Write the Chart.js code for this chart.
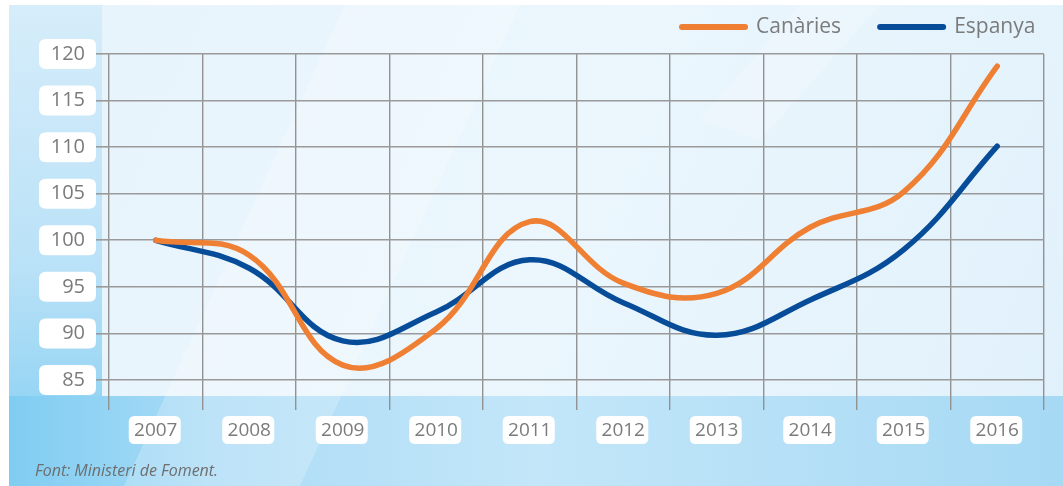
<!DOCTYPE html>
<html>
<head>
<meta charset="utf-8">
<script src="https://cdn.jsdelivr.net/npm/chart.js@4.4.1/dist/chart.umd.min.js"></script>
<style>
  html, body { margin: 0; padding: 0; background: #fff; }
  #wrap { width: 1063px; height: 486px; }
</style>
</head>
<body>
<div id="wrap"><canvas id="chart" width="1063" height="486"></canvas></div>
<script>
// values (index, 2007 = 100)
const years = ['2007', '2008', '2009', '2010', '2011', '2012', '2013', '2014', '2015', '2016'];
const canaries = [100, 98.4, 86.6, 90.5, 102.0, 95.4, 94.3, 101.4, 105.2, 118.7];
const espanya = [100, 97.0, 89.2, 92.3, 97.9, 93.3, 89.8, 93.6, 99.0, 110.1];
const yMin = 85, yMax = 120, yStep = 5;
const seriesNames = ['Canàries', 'Espanya'];
const seriesColors = ['#ef7f32', '#064c99'];
const sourceNote = 'Font: Ministeri de Foment.';

const FONT = '"Open Sans", "Noto Sans", sans-serif';
const TEXT_GREY = '#7b7b7b';

function roundRect(ctx, x, y, w, h, r) {
    ctx.beginPath();
    ctx.moveTo(x + r, y);
    ctx.lineTo(x + w - r, y);
    ctx.quadraticCurveTo(x + w, y, x + w, y + r);
    ctx.lineTo(x + w, y + h - r);
    ctx.quadraticCurveTo(x + w, y + h, x + w - r, y + h);
    ctx.lineTo(x + r, y + h);
    ctx.quadraticCurveTo(x, y + h, x, y + h - r);
    ctx.lineTo(x, y + r);
    ctx.quadraticCurveTo(x, y, x + r, y);
    ctx.closePath();
}

// background panels + white boxes behind tick labels
const backdropPlugin = {
    id: 'backdrop',
    beforeDraw(chart) {
        const ctx = chart.ctx;
        const W = chart.width, H = chart.height;
        const bandTop = 396, colRight = 102;
        ctx.save();
        ctx.fillStyle = '#ffffff';
        ctx.fillRect(0, 0, W, H);

        // left column
        let g = ctx.createLinearGradient(0, 5, 0, H);
        g.addColorStop(0, '#d6edfa');
        g.addColorStop(0.55, '#b9e1f7');
        g.addColorStop(1, '#7fcdf2');
        ctx.fillStyle = g;
        ctx.fillRect(9, 5, colRight - 9, H - 5);

        // bottom band
        g = ctx.createLinearGradient(9, 0, W, 0);
        g.addColorStop(0, '#7fcdf2');
        g.addColorStop(0.2, '#acdcf6');
        g.addColorStop(0.5, '#c3e6f9');
        g.addColorStop(1, '#a6d9f4');
        ctx.fillStyle = g;
        ctx.fillRect(9, bandTop, W - 9, H - bandTop);

        // plot panel
        g = ctx.createLinearGradient(colRight, 5, W, bandTop);
        g.addColorStop(0, '#e8f4fc');
        g.addColorStop(0.5, '#ebf6fd');
        g.addColorStop(1, '#e1f1fb');
        ctx.fillStyle = g;
        ctx.fillRect(colRight, 5, W - colRight, bandTop - 5);

        // soft diagonal highlights
        ctx.fillStyle = 'rgba(255,255,255,0.22)';
        ctx.beginPath();
        ctx.moveTo(124, H);
        ctx.lineTo(345, 5);
        ctx.lineTo(520, 5);
        ctx.lineTo(300, H);
        ctx.closePath();
        ctx.fill();
        ctx.fillStyle = 'rgba(255,255,255,0.18)';
        ctx.beginPath();
        ctx.moveTo(700, 120);
        ctx.lineTo(800, 5);
        ctx.lineTo(880, 5);
        ctx.lineTo(760, 140);
        ctx.closePath();
        ctx.fill();

        // label boxes
        ctx.fillStyle = '#ffffff';
        const ys = chart.scales.y;
        ys.ticks.forEach((t, i) => {
            const py = ys.getPixelForTick(i);
            roundRect(ctx, 39, py - 15, 57, 30, 7);
            ctx.fill();
        });
        const xs = chart.scales.x;
        xs.ticks.forEach((t, i) => {
            const px = xs.getPixelForTick(i);
            roundRect(ctx, px - 27, 416, 52, 28, 6);
            ctx.fill();
        });
        ctx.restore();
    }
};

// legend at top right and source note
const legendNotePlugin = {
    id: 'legendNote',
    afterDraw(chart) {
        const ctx = chart.ctx;
        ctx.save();
        ctx.font = '21px ' + FONT;
        ctx.textBaseline = 'middle';
        ctx.textAlign = 'left';
        let x = 679;
        const y = 27;
        chart.data.datasets.forEach(ds => {
            ctx.strokeStyle = ds.borderColor;
            ctx.lineWidth = 6;
            ctx.lineCap = 'round';
            ctx.beginPath();
            ctx.moveTo(x + 3, y);
            ctx.lineTo(x + 66, y);
            ctx.stroke();
            ctx.fillStyle = TEXT_GREY;
            ctx.fillText(ds.label, x + 77, y);
            x += 77 + ctx.measureText(ds.label).width + 36;
        });

        ctx.font = 'italic 16px ' + FONT;
        ctx.fillStyle = '#6e6e6e';
        ctx.textBaseline = 'alphabetic';
        ctx.fillText(sourceNote, 35, 476);
        ctx.restore();
    }
};

const ctx = document.getElementById('chart');
new Chart(ctx, {
    type: 'line',
    data: {
        labels: years,
        datasets: [
            {
                label: seriesNames[0],
                data: canaries,
                borderColor: seriesColors[0],
                backgroundColor: seriesColors[0],
                borderWidth: 5.5,
                borderCapStyle: 'round',
                tension: 0.4,
                pointRadius: 0,
                fill: false,
            },
            {
                label: seriesNames[1],
                data: espanya,
                borderColor: seriesColors[1],
                backgroundColor: seriesColors[1],
                borderWidth: 5.5,
                borderCapStyle: 'round',
                tension: 0.4,
                pointRadius: 0,
                fill: false,
            },
        ],
    },
    options: {
        responsive: false,
        animation: false,
        clip: false,
        layout: { padding: { top: 54, right: 19, left: 0, bottom: 0 } },
        plugins: {
            legend: { display: false },
            tooltip: { enabled: false },
        },
        scales: {
            x: {
                offset: true,
                grid: {
                    offset: true,
                    color: '#929292',
                    lineWidth: 1.4,
                    tickLength: 30,
                },
                border: { display: false },
                ticks: {
                    color: TEXT_GREY,
                    font: { family: FONT, size: 19 },
                    padding: 9,
                    maxRotation: 0,
                    autoSkip: false,
                },
                afterFit: s => { s.height = 106; },
            },
            y: {
                min: yMin,
                max: yMax,
                grid: {
                    color: '#9a9a9a',
                    lineWidth: 1.6,
                    tickLength: 13,
                },
                border: { display: false },
                ticks: {
                    stepSize: yStep,
                    color: TEXT_GREY,
                    font: { family: FONT, size: 20 },
                    padding: 11,
                },
                afterFit: s => { s.width = 109; },
            },
        },
    },
    plugins: [backdropPlugin, legendNotePlugin],
});
</script>
</body>
</html>
